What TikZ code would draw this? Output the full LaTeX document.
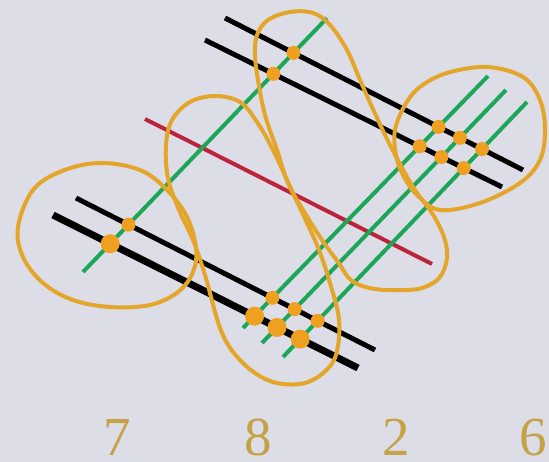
\documentclass[tikz,border=0pt]{standalone}
\usepackage{fontspec}
\setmainfont{Liberation Serif}
\definecolor{bg}{RGB}{221,221,232}
\definecolor{gr}{RGB}{28,166,88}
\definecolor{rd}{RGB}{188,36,60}
\definecolor{lp}{RGB}{228,166,42}
\definecolor{dt}{RGB}{240,160,32}
\definecolor{dg}{RGB}{198,162,70}
\tikzset{
  blk/.style={line width=5pt, black},
  blkthick/.style={line width=7pt, black},
  grn/.style={line width=4pt, gr},
  red/.style={line width=4pt, rd},
  loopline/.style={line width=4pt, lp},
  dot/.style={circle, fill=dt, inner sep=0pt, minimum size=14pt},
  bigdot/.style={circle, fill=dt, inner sep=0pt, minimum size=19pt},
  lab/.style={anchor=base, inner sep=0pt, text=dg, font=\fontsize{55}{58}\selectfont}
}
\begin{document}
\begin{tikzpicture}[x=1pt,y=-1pt]
\fill[bg] (0,0) rectangle (549,462);
\useasboundingbox (0,0) rectangle (549,462);
% line end points
\coordinate (A1s) at (225,18);  \coordinate (A1e) at (523,170);
\coordinate (A2s) at (205,40);  \coordinate (A2e) at (502,187);
\coordinate (B1s) at (76,198);  \coordinate (B1e) at (375,350);
\coordinate (B2s) at (53,215);  \coordinate (B2e) at (358,368);
\coordinate (Rs) at (145,119);  \coordinate (Re) at (432,264);
\coordinate (G1s) at (83,272);  \coordinate (G1e) at (327,18);
\coordinate (G2s) at (243,328); \coordinate (G2e) at (488,76);
\coordinate (G3s) at (262,343); \coordinate (G3e) at (506,90);
\coordinate (G4s) at (283,357); \coordinate (G4e) at (527,102);
% lines
\draw[blk] (A1s) -- (A1e);
\draw[blk] (A2s) -- (A2e);
\draw[blk] (B1s) -- (B1e);
\draw[blkthick] (B2s) -- (B2e);
\draw[red] (Rs) -- (Re);
\draw[grn] (G1s) -- (G1e);
\draw[grn] (G2s) -- (G2e);
\draw[grn] (G3s) -- (G3e);
\draw[grn] (G4s) -- (G4e);
% loops
\draw[loopline] plot[smooth cycle, tension=0.6] coordinates {
 (100,163) (140,170) (167,190) (187,217) (196,248) (193,272) (178,292)
 (150,305) (110,307) (73,300) (43,283) (23,257) (18,227) (33,190) (62,171)};
\draw[loopline] plot[smooth cycle, tension=0.6] coordinates {
 (215,96) (240,102) (257,122) (273,150) (293,193) (307,223) (319,250)
 (330,283) (339,320) (336,355) (322,374) (300,384) (270,381) (243,363)
 (222,333) (205,275) (193,240) (179,210) (168,178) (166,145) (172,120) (190,102)};
\draw[loopline] plot[smooth cycle, tension=0.6] coordinates {
 (257,35) (268,20) (290,12) (313,13) (330,25) (347,50) (360,80) (372,107)
 (390,145) (413,187) (432,213) (444,237) (447,258) (440,277) (425,287)
 (407,290) (375,289) (352,281) (338,262) (322,240) (303,210) (288,183)
 (277,150) (265,115) (258,80) (255,55)};
\draw[loopline] plot[smooth cycle, tension=0.6] coordinates {
 (395,130) (405,105) (420,87) (447,73) (487,67) (523,77) (540,100) (545,130)
 (540,160) (520,183) (480,203) (440,210) (417,195) (403,175) (396,155)};
% dots
\node[dot] (d1) at (intersection of G1s--G1e and A1s--A1e) {};
\node[dot] (d2) at (intersection of G1s--G1e and A2s--A2e) {};
\node[dot] (d3) at (intersection of G1s--G1e and B1s--B1e) {};
\node[bigdot] (d4) at (intersection of G1s--G1e and B2s--B2e) {};
\node[dot] (d5) at (intersection of G2s--G2e and A1s--A1e) {};
\node[dot] (d6) at (intersection of G3s--G3e and A1s--A1e) {};
\node[dot] (d7) at (intersection of G4s--G4e and A1s--A1e) {};
\node[dot] (d8) at (intersection of G2s--G2e and A2s--A2e) {};
\node[dot] (d9) at (intersection of G3s--G3e and A2s--A2e) {};
\node[dot] (d10) at (intersection of G4s--G4e and A2s--A2e) {};
\node[dot] (d11) at (intersection of G2s--G2e and B1s--B1e) {};
\node[dot] (d12) at (intersection of G3s--G3e and B1s--B1e) {};
\node[dot] (d13) at (intersection of G4s--G4e and B1s--B1e) {};
\node[bigdot] (d14) at (intersection of G2s--G2e and B2s--B2e) {};
\node[bigdot] (d15) at (intersection of G3s--G3e and B2s--B2e) {};
\node[bigdot] (d16) at (intersection of G4s--G4e and B2s--B2e) {};
% labels
\node[lab] (n7) at (117,455) {7};
\node[lab] (n8) at (258,455) {8};
\node[lab] (n2) at (396,455) {2};
\node[lab] (n6) at (533,455) {6};
\end{tikzpicture}
\end{document}
